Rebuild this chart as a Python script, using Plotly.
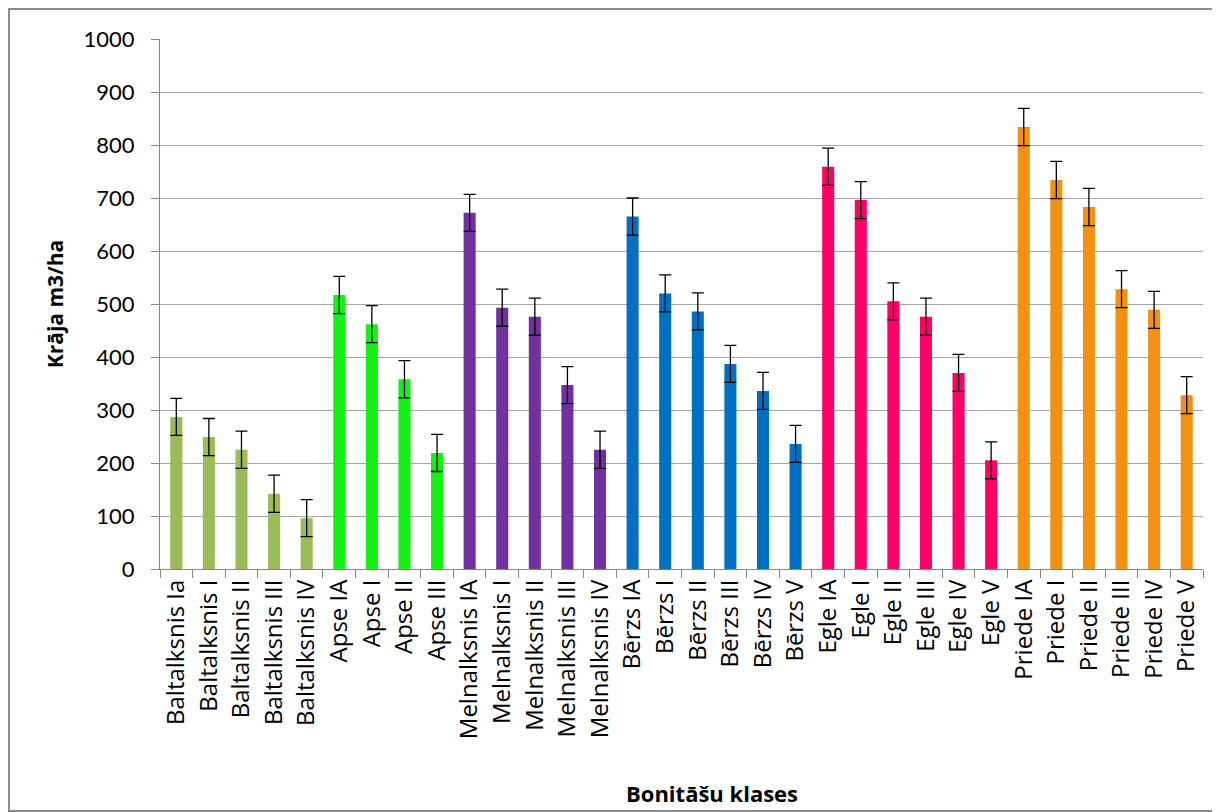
import plotly.graph_objects as go

categories = ["Baltalksnis Ia", "Baltalksnis I", "Baltalksnis II", "Baltalksnis III", "Baltalksnis IV",
              "Apse IA", "Apse I", "Apse II", "Apse III",
              "Melnalksnis IA", "Melnalksnis I", "Melnalksnis II", "Melnalksnis III", "Melnalksnis IV",
              "Bērzs IA", "Bērzs I", "Bērzs II", "Bērzs III", "Bērzs IV", "Bērzs V",
              "Egle IA", "Egle I", "Egle II", "Egle III", "Egle IV", "Egle V",
              "Priede IA", "Priede I", "Priede II", "Priede III", "Priede IV", "Priede V"]
values = [287, 249, 225, 142, 96,
          517, 462, 358, 219,
          672, 493, 476, 347, 225,
          665, 520, 486, 387, 336, 236,
          759, 696, 505, 476, 370, 205,
          834, 734, 683, 528, 489, 328]
errors = [35] * len(values)
species = ["Baltalksnis"] * 5 + ["Apse"] * 4 + ["Melnalksnis"] * 5 + ["Bērzs"] * 6 + ["Egle"] * 6 + ["Priede"] * 6
species_colors = {"Baltalksnis": "#9BBB59", "Apse": "#14F014", "Melnalksnis": "#7030A0",
                  "Bērzs": "#0070C0", "Egle": "#FF0066", "Priede": "#F29111"}
colors = [species_colors[s] for s in species]

font = "Lato, Open Sans, sans-serif"
font2 = "Open Sans, Lato, sans-serif"

fig = go.Figure(go.Bar(
    x=categories, y=values, marker=dict(color=colors, line=dict(width=0)),
    error_y=dict(type="data", array=errors, visible=True, color="#000000", thickness=1.3, width=6),
))

fig.update_layout(
    width=1212, height=804,
    margin=dict(l=152, r=17, t=31, b=243),
    paper_bgcolor="white", plot_bgcolor="white",
    bargap=0.63, showlegend=False,
    font=dict(family=font, color="#000000"),
    shapes=[dict(type="rect", xref="paper", yref="paper", x0=-0.1448, x1=1.0144, y0=-0.4566, y1=1.0566,
                 line=dict(color="#8C8C8C", width=2), fillcolor="rgba(0,0,0,0)", layer="below")],
    annotations=[dict(text="<b>Bonitāšu klases</b>", xref="paper", yref="paper", x=0.529, y=-0.4226,
                      xanchor="center", yanchor="middle", showarrow=False,
                      font=dict(size=22, family=font2, color="#000000"))],
)
fig.update_xaxes(
    type="category", tickangle=-90, tickfont=dict(size=24, family=font2),
    showline=True, linecolor="#868686", linewidth=1,
    ticks="outside", tickson="boundaries", ticklen=8, tickcolor="#868686",
)
fig.update_yaxes(
    range=[0, 1000], dtick=100, tickfont=dict(size=22, family=font),
    showgrid=True, gridcolor="#A6A6A6", gridwidth=1,
    showline=True, linecolor="#868686", linewidth=1,
    ticks="outside", ticklen=8, tickcolor="#868686", ticklabelstandoff=12,
    title=dict(text="<b>Krāja m3/ha</b>", font=dict(size=21, family=font2), standoff=14),
    zeroline=False,
)

fig.write_html("out.html")
